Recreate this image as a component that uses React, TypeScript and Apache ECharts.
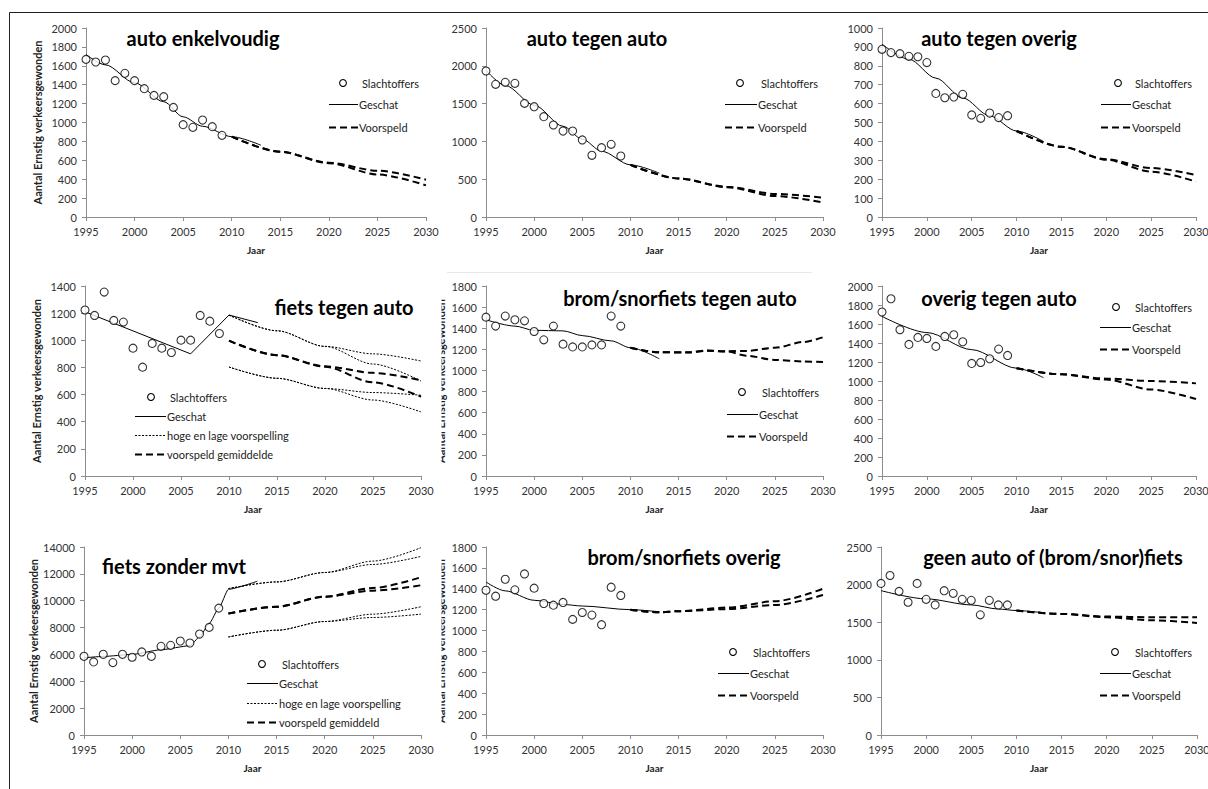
import React, { useEffect, useRef } from "react";
import * as echarts from "echarts";

const FONT = "Lato, 'Open Sans', sans-serif";

// ---------------- data ----------------
const obsYears = [1995, 1996, 1997, 1998, 1999, 2000, 2001, 2002, 2003, 2004, 2005, 2006, 2007, 2008, 2009];
const fcYears = [2010, 2015, 2020, 2025, 2030];

// 1 auto enkelvoudig
const p1Obs = [1668, 1640, 1661, 1443, 1520, 1443, 1358, 1287, 1273, 1160, 977, 949, 1026, 956, 864];
const p1FitYears = [1995, 1997, 2000, 2003, 2005, 2007, 2010, 2013];
const p1Fit = [1720, 1610, 1420, 1220, 1060, 960, 850, 760];
const p1FcA = [850, 690, 575, 490, 395];
const p1FcB = [850, 690, 570, 450, 335];

// 2 auto tegen auto
const p2Obs = [1931, 1755, 1781, 1768, 1503, 1459, 1327, 1217, 1137, 1137, 1019, 816, 917, 961, 807];
const p2FitYears = [1995, 1997, 2000, 2003, 2005, 2007, 2010, 2013];
const p2Fit = [1940, 1740, 1480, 1200, 1030, 870, 690, 580];
const p2FcA = [690, 510, 400, 305, 255];
const p2FcB = [690, 510, 395, 278, 192];

// 3 auto tegen overig
const p3Obs = [887, 870, 864, 850, 848, 817, 654, 631, 635, 649, 540, 522, 550, 526, 536];
const p3FitYears = [1995, 1998, 2001, 2004, 2007, 2010, 2013];
const p3Fit = [915, 835, 735, 630, 535, 455, 400];
const p3FcA = [455, 372, 305, 259, 222];
const p3FcB = [455, 372, 303, 240, 187];

// 4 fiets tegen auto
const p4Obs = [1223, 1183, 1355, 1146, 1134, 942, 802, 977, 942, 910, 1001, 1001, 1183, 1141, 1050];
const p4FitYears = [1995, 2006, 2010, 2013];
const p4Fit = [1210, 900, 1186, 1130];
const p4HighA = [1186, 1070, 955, 900, 847];
const p4HighB = [1186, 1070, 955, 825, 700];
const p4MeanA = [997, 890, 808, 760, 705];
const p4MeanB = [997, 890, 805, 690, 584];
const p4LowA = [803, 720, 645, 615, 595];
const p4LowB = [803, 720, 645, 560, 472];

// 5 brom/snorfiets tegen auto
const p5Obs = [1505, 1420, 1515, 1480, 1470, 1369, 1290, 1420, 1249, 1223, 1223, 1242, 1242, 1515, 1420];
const p5FitYears = [1995, 1998, 2000, 2003, 2005, 2008, 2010, 2013];
const p5Fit = [1480, 1420, 1380, 1375, 1330, 1280, 1215, 1110];
const p5FcYears = [2010, 2013, 2016, 2018, 2020, 2022, 2025, 2028, 2030];
const p5FcA = [1215, 1172, 1170, 1188, 1182, 1185, 1215, 1270, 1315];
const p5FcB = [1215, 1172, 1172, 1186, 1180, 1140, 1100, 1085, 1080];

// 6 overig tegen auto
const p6Obs = [1726, 1866, 1540, 1385, 1459, 1448, 1364, 1469, 1487, 1413, 1185, 1195, 1234, 1336, 1269];
const p6FitYears = [1995, 2000, 2005, 2010, 2013];
const p6Fit = [1680, 1510, 1330, 1135, 1035];
const p6FcA = [1135, 1070, 1025, 1000, 975];
const p6FcB = [1135, 1070, 1015, 910, 810];

// 7 fiets zonder mvt
const p7Obs = [5862, 5442, 6011, 5392, 6011, 5788, 6184, 5862, 6604, 6678, 7000, 6852, 7519, 8014, 9449];
const p7FitYears = [1995, 1997, 2000, 2003, 2006, 2007, 2008, 2009, 2010, 2013];
const p7Fit = [5750, 5850, 6000, 6350, 6650, 7300, 8300, 9450, 10850, 11450];
const p7HighA = [10900, 11400, 12100, 12950, 13950];
const p7HighB = [10900, 11400, 12100, 12700, 13300];
const p7MeanA = [9050, 9550, 10300, 10950, 11750];
const p7MeanB = [9050, 9550, 10300, 10750, 11150];
const p7LowA = [7300, 7800, 8450, 9000, 9550];
const p7LowB = [7300, 7800, 8450, 8750, 9000];

// 8 brom/snorfiets overig
const p8Obs = [1386, 1329, 1491, 1390, 1542, 1406, 1259, 1243, 1269, 1107, 1173, 1148, 1056, 1415, 1336];
const p8FitYears = [1995, 1997, 2000, 2003, 2005, 2010, 2013];
const p8Fit = [1465, 1380, 1290, 1250, 1235, 1200, 1180];
const p8FcYears = [2010, 2013, 2015, 2020, 2025, 2030];
const p8FcA = [1200, 1175, 1185, 1220, 1280, 1400];
const p8FcB = [1200, 1175, 1185, 1205, 1245, 1340];

// 9 geen auto of (brom/snor)fiets
const p9Obs = [2016, 2121, 1910, 1765, 2016, 1804, 1730, 1919, 1884, 1804, 1791, 1598, 1791, 1730, 1730];
const p9FitYears = [1995, 2000, 2005, 2008, 2010, 2013];
const p9Fit = [1920, 1810, 1730, 1675, 1655, 1625];
const p9FcA = [1655, 1610, 1575, 1565, 1565];
const p9FcB = [1655, 1610, 1565, 1525, 1490];

const titles = [
  "auto enkelvoudig", "auto tegen auto", "auto tegen overig",
  "fiets tegen auto", "brom/snorfiets tegen auto", "overig tegen auto",
  "fiets zonder mvt", "brom/snorfiets overig", "geen auto of (brom/snor)fiets",
];
const yMaxes = [2000, 2500, 1000, 1400, 1800, 2000, 14000, 1800, 2500];
const ySteps = [200, 500, 100, 200, 200, 200, 2000, 200, 500];
const xMin = 1995;
const xMax = 2030;
const xStep = 5;
const yTitle = "Aantal Ernstig verkeersgewonden";
const xTitle = "Jaar";
const legend3 = ["Slachtoffers", "Geschat", "Voorspeld"];
const legend4a = ["Slachtoffers", "Geschat", "hoge en lage voorspelling", "voorspeld gemiddelde"];
const legend4b = ["Slachtoffers", "Geschat", "hoge en lage voorspelling", "voorspeld gemiddeld"];

// ---------------- layout (positions only) ----------------
const grids = [
  { l: 86, t: 28, r: 426, b: 217 },
  { l: 486, t: 28, r: 823, b: 217 },
  { l: 882, t: 28, r: 1196, b: 217 },
  { l: 85, t: 286, r: 421, b: 476 },
  { l: 486, t: 286, r: 823, b: 476 },
  { l: 882, t: 286, r: 1196, b: 476 },
  { l: 84, t: 547, r: 421, b: 735 },
  { l: 486, t: 547, r: 823, b: 735 },
  { l: 881, t: 547, r: 1197, b: 735 },
];
const titlePos = [
  [203, 38], [597, 38], [999, 38],
  [344, 307], [680, 298], [999, 298],
  [174, 566], [684, 557], [1053, 557],
];
const legendPos = [
  { dot: 343, x1: 329, x2: 358, ys: [83, 104, 127] },
  { dot: 740, x1: 725, x2: 757, ys: [83, 104, 127] },
  { dot: 1118, x1: 1101, x2: 1131, ys: [83, 104, 127] },
  { dot: 151, x1: 135, x2: 166, ys: [397, 416, 435, 454] },
  { dot: 742, x1: 727, x2: 758, ys: [392, 414, 436] },
  { dot: 1116, x1: 1100, x2: 1131, ys: [307, 327, 349] },
  { dot: 262, x1: 247, x2: 278, ys: [664, 683, 703, 722] },
  { dot: 733, x1: 718, x2: 749, ys: [652, 673, 695] },
  { dot: 1115, x1: 1100, x2: 1131, ys: [652, 673, 695] },
];
const yNameGap: Record<number, number> = { 0: 43, 3: 43, 6: 43, 4: 40, 7: 40 };
const clippedNamePanels = [4, 7];

const DASH = [7, 4];
const DOT = [2, 1.5];

const zip = (xs: number[], ys: number[]) => xs.map((x, i) => [x, ys[i]]);

function obsSeries(gi: number, vals: number[]) {
  return {
    type: "scatter", xAxisIndex: gi, yAxisIndex: gi, data: zip(obsYears, vals),
    symbol: "circle", symbolSize: 8, silent: true, z: 6,
    itemStyle: { color: "#fff", borderColor: "#000", borderWidth: 1.1 },
  };
}
function lineSeries(gi: number, xs: number[], ys: number[], kind: string, smooth: number | boolean = 0.3) {
  const ls: any = { color: "#000" };
  if (kind === "solid") { ls.width = 1; ls.type = "solid"; }
  if (kind === "dash") { ls.width = 2; ls.type = DASH; }
  if (kind === "dot") { ls.width = 1; ls.type = DOT; }
  return {
    type: "line", xAxisIndex: gi, yAxisIndex: gi, data: zip(xs, ys),
    showSymbol: false, symbol: "none", smooth, smoothMonotone: "x", silent: true,
    lineStyle: ls, z: kind === "solid" ? 4 : 3,
  };
}

function buildOption() {
  const grid: any[] = [];
  const xAxis: any[] = [];
  const yAxis: any[] = [];
  grids.forEach((g, i) => {
    grid.push({ left: g.l, top: g.t, width: g.r - g.l, height: g.b - g.t, containLabel: false, outerBoundsMode: "none" });
    xAxis.push({
      type: "value", gridIndex: i, min: xMin, max: xMax, interval: xStep,
      axisLine: { show: true, lineStyle: { color: "#8c8c8c", width: 1 } },
      axisTick: { show: true, length: 4, lineStyle: { color: "#8c8c8c" } },
      axisLabel: { color: "#333", fontSize: 11, fontFamily: FONT, margin: 9, formatter: (v: number) => String(v) },
      splitLine: { show: false },
      name: xTitle, nameLocation: "middle", nameGap: 28,
      nameTextStyle: { color: "#222", fontSize: 10, fontWeight: "bold", fontFamily: FONT },
    });
    const gap = yNameGap[i];
    yAxis.push({
      type: "value", gridIndex: i, min: 0, max: yMaxes[i], interval: ySteps[i],
      axisLine: { show: true, lineStyle: { color: "#8c8c8c", width: 1 } },
      axisTick: { show: true, length: 4, lineStyle: { color: "#8c8c8c" } },
      axisLabel: { color: "#333", fontSize: 11, fontFamily: FONT, margin: 9, formatter: (v: number) => String(v) },
      splitLine: { show: false },
      name: gap !== undefined ? yTitle : "", nameLocation: "middle", nameGap: gap ?? 40, nameRotate: 90,
      nameTextStyle: { color: "#222", fontSize: 11, fontWeight: "bold", fontFamily: FONT },
    });
  });

  const series: any[] = [
    // 1
    lineSeries(0, p1FitYears, p1Fit, "solid"),
    lineSeries(0, fcYears, p1FcA, "dash"),
    lineSeries(0, fcYears, p1FcB, "dash"),
    obsSeries(0, p1Obs),
    // 2
    lineSeries(1, p2FitYears, p2Fit, "solid"),
    lineSeries(1, fcYears, p2FcA, "dash"),
    lineSeries(1, fcYears, p2FcB, "dash"),
    obsSeries(1, p2Obs),
    // 3
    lineSeries(2, p3FitYears, p3Fit, "solid"),
    lineSeries(2, fcYears, p3FcA, "dash"),
    lineSeries(2, fcYears, p3FcB, "dash"),
    obsSeries(2, p3Obs),
    // 4
    lineSeries(3, p4FitYears, p4Fit, "solid", false),
    lineSeries(3, fcYears, p4HighA, "dot"),
    lineSeries(3, fcYears, p4HighB, "dot"),
    lineSeries(3, fcYears, p4LowA, "dot"),
    lineSeries(3, fcYears, p4LowB, "dot"),
    lineSeries(3, fcYears, p4MeanA, "dash"),
    lineSeries(3, fcYears, p4MeanB, "dash"),
    obsSeries(3, p4Obs),
    // 5
    lineSeries(4, p5FitYears, p5Fit, "solid"),
    lineSeries(4, p5FcYears, p5FcA, "dash"),
    lineSeries(4, p5FcYears, p5FcB, "dash"),
    obsSeries(4, p5Obs),
    // 6
    lineSeries(5, p6FitYears, p6Fit, "solid"),
    lineSeries(5, fcYears, p6FcA, "dash"),
    lineSeries(5, fcYears, p6FcB, "dash"),
    obsSeries(5, p6Obs),
    // 7
    lineSeries(6, p7FitYears, p7Fit, "solid", 0.2),
    lineSeries(6, fcYears, p7HighA, "dot"),
    lineSeries(6, fcYears, p7HighB, "dot"),
    lineSeries(6, fcYears, p7LowA, "dot"),
    lineSeries(6, fcYears, p7LowB, "dot"),
    lineSeries(6, fcYears, p7MeanA, "dash"),
    lineSeries(6, fcYears, p7MeanB, "dash"),
    obsSeries(6, p7Obs),
    // 8
    lineSeries(7, p8FitYears, p8Fit, "solid"),
    lineSeries(7, p8FcYears, p8FcA, "dash"),
    lineSeries(7, p8FcYears, p8FcB, "dash"),
    obsSeries(7, p8Obs),
    // 9
    lineSeries(8, p9FitYears, p9Fit, "solid"),
    lineSeries(8, fcYears, p9FcA, "dash"),
    lineSeries(8, fcYears, p9FcB, "dash"),
    obsSeries(8, p9Obs),
  ];

  const graphic: any[] = [];
  // outer frame
  graphic.push({ type: "line", shape: { x1: 9.5, y1: 12.5, x2: 1208, y2: 12.5 }, style: { stroke: "#222", lineWidth: 1 }, silent: true });
  graphic.push({ type: "line", shape: { x1: 9.5, y1: 12.5, x2: 9.5, y2: 789 }, style: { stroke: "#222", lineWidth: 1 }, silent: true });
  graphic.push({ type: "line", shape: { x1: 447, y1: 272.5, x2: 812, y2: 272.5 }, style: { stroke: "#e8e8e8", lineWidth: 1 }, silent: true });

  // covers for the clipped axis names of the middle column
  clippedNamePanels.forEach((i) => {
    const g = grids[i];
    graphic.push({ type: "rect", z: 100, shape: { x: 426, y: g.t - 5, width: 15.5, height: g.b - g.t + 10 }, style: { fill: "#fff" }, silent: true });
  });

  titles.forEach((t, i) => {
    graphic.push({
      type: "text", x: titlePos[i][0], y: titlePos[i][1], z: 50, silent: true,
      style: { text: t, fill: "#000", font: `bold 20px ${FONT}`, textAlign: "center", textVerticalAlign: "middle" },
    });
  });

  legendPos.forEach((lp, i) => {
    const labels = lp.ys.length === 4 ? (i === 3 ? legend4a : legend4b) : legend3;
    const tx = lp.x2 + 1;
    labels.forEach((lab, k) => {
      const y = lp.ys[k];
      if (k === 0) {
        graphic.push({ type: "circle", z: 50, silent: true, shape: { cx: lp.dot, cy: y, r: 3.4 }, style: { fill: "#fff", stroke: "#000", lineWidth: 1.1 } });
      } else {
        let dash: any = null;
        let w = 1;
        if (lab.startsWith("hoge")) { dash = DOT; w = 1; }
        else if (lab.startsWith("Voorspeld") || lab.startsWith("voorspeld")) { dash = [7, 4]; w = 2; }
        graphic.push({ type: "line", z: 50, silent: true, shape: { x1: lp.x1, y1: y + 0.5, x2: lp.x2, y2: y + 0.5 }, style: { stroke: "#000", lineWidth: w, lineDash: dash } });
      }
      graphic.push({
        type: "text", z: 50, silent: true, x: k === 0 ? tx + 3 : tx, y,
        style: { text: lab, fill: "#222", font: `11px ${FONT}`, textAlign: "left", textVerticalAlign: "middle" },
      });
    });
  });

  return {
    animation: false,
    backgroundColor: "#fff",
    textStyle: { fontFamily: FONT },
    grid, xAxis, yAxis, series, graphic,
  };
}

export default function App() {
  const ref = useRef<HTMLDivElement>(null);
  useEffect(() => {
    if (!ref.current) return;
    const chart = echarts.init(ref.current, undefined, { renderer: "svg" });
    chart.setOption(buildOption() as any);
    return () => chart.dispose();
  }, []);
  return (
    <div
      ref={ref}
      style={{ position: "absolute", left: 0, top: 0, width: 1208, height: 789, background: "#fff" }}
    />
  );
}
